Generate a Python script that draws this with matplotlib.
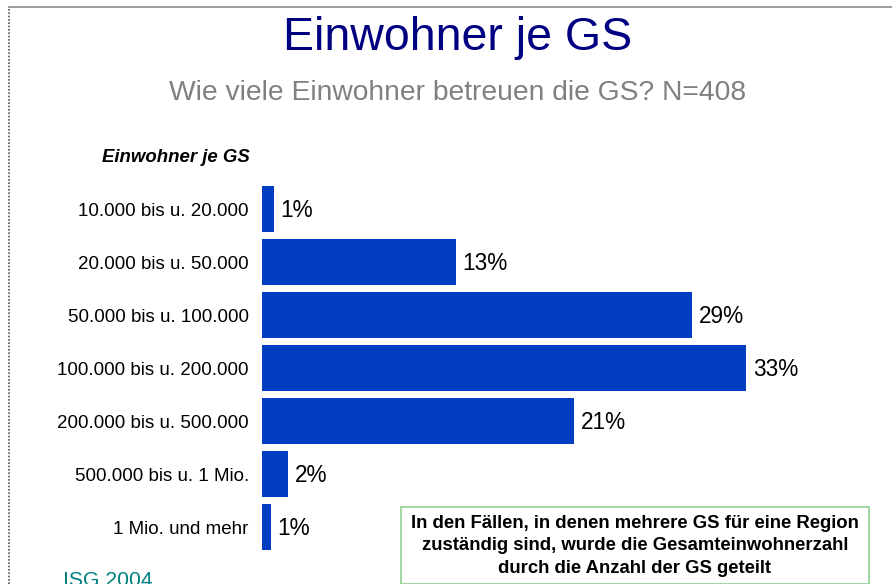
import matplotlib.pyplot as plt
from matplotlib.lines import Line2D
from matplotlib.patches import Rectangle

plt.rcParams['font.family'] = ['Liberation Sans', 'DejaVu Sans']

categories = ['10.000 bis u. 20.000', '20.000 bis u. 50.000', '50.000 bis u. 100.000',
              '100.000 bis u. 200.000', '200.000 bis u. 500.000', '500.000 bis u. 1 Mio.',
              '1 Mio. und mehr']
values = [0.8, 13.2, 29.3, 33.0, 21.3, 1.8, 0.6]
labels = ['1%', '13%', '29%', '33%', '21%', '2%', '1%']

W, H = 892, 584
fig = plt.figure(figsize=(W / 100, H / 100), dpi=100)

# page frame: gray line on top, dotted on the left
fig.add_artist(Line2D([9 / W, 1], [1 - 7 / H] * 2, color='#8c8c8c', lw=1.2))
fig.add_artist(Line2D([9 / W] * 2, [0, 1 - 7 / H], color='#555555', lw=1.2,
                      linestyle=(0, (1, 1))))

fig.text(458 / W, 1 - 38 / H, 'Einwohner je GS', ha='center', va='center',
         fontsize=33.5, color='#000080')
fig.text(458 / W, 1 - 93 / H, 'Wie viele Einwohner betreuen die GS? N=408',
         ha='center', va='center', fontsize=20.3, color='#808080')
fig.text(176 / W, 1 - 157 / H, 'Einwohner je GS', ha='center', va='center',
         fontsize=13.4, fontweight='bold', fontstyle='italic')

# bar chart, 14.67 px per percent
px_per = 14.67
x0 = 262
ax = fig.add_axes([x0 / W, 1 - 553.5 / H, 40 * px_per / W, 371 / H])
ypos = list(range(len(categories)))
ax.barh(ypos, values, height=46 / 53, color='#003DBF', edgecolor='none')
ax.set_xlim(0, 40)
ax.set_ylim(6.5, -0.5)
ax.set_yticks(ypos)
ax.set_yticklabels(categories, fontsize=13.5)
ax.tick_params(axis='y', length=0, pad=9.5)
ax.set_xticks([])
for s in ax.spines.values():
    s.set_visible(False)
for y, v, lab in zip(ypos, values, labels):
    ax.text(v + 0.45, y + 0.02, lab, va='center', ha='left', fontsize=16.3)

fig.text(63 / W, 1 - 580 / H, 'ISG 2004', ha='left', va='center',
         fontsize=15.2, color='#008080')

# note box
fig.add_artist(Rectangle((401 / W, 0), 468 / W, 1 - 507 / H,
                         transform=fig.transFigure, facecolor='white',
                         edgecolor='#90d090', lw=1.2))
fig.text(635 / W, 1 - 546 / H,
         'In den Fällen, in denen mehrere GS für eine Region\n'
         'zuständig sind, wurde die Gesamteinwohnerzahl\n'
         'durch die Anzahl der GS geteilt',
         ha='center', va='center', fontsize=13.3, fontweight='bold',
         linespacing=1.42)

fig.savefig('out.png', dpi=100)
